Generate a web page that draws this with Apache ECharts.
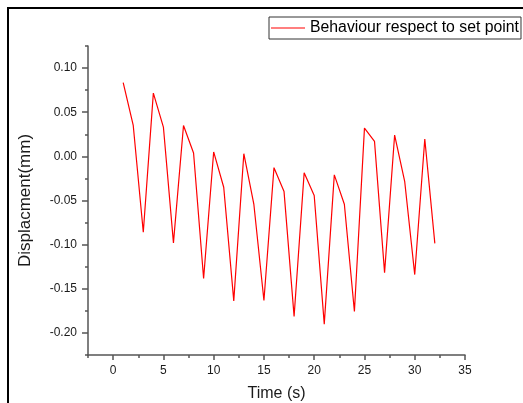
<!DOCTYPE html>
<html>
<head>
<meta charset="utf-8">
<script src="https://cdn.jsdelivr.net/npm/echarts@6/dist/echarts.min.js"></script>
<style>
  html, body { margin: 0; padding: 0; background: #fff; }
  #chart { width: 523px; height: 403px; }
</style>
</head>
<body>
<div id="chart"></div>
<script>
// time (s) and displacement (mm)
const times = [1, 2, 3, 4, 5, 6, 7, 8, 9, 10, 11, 12, 13, 14, 15, 16,
  17, 18, 19, 20, 21, 22, 23, 24, 25, 26, 27, 28, 29, 30, 31, 32]
const displacement = [0.0835, 0.035, -0.086, 0.0716, 0.0332, -0.098, 0.035, 0.0038,
  -0.1384, 0.005, -0.035, -0.1637, 0.003, -0.0545, -0.1633, -0.0128,
  -0.0399, -0.1813, -0.0187, -0.0444, -0.190, -0.021, -0.0542, -0.1757,
  0.032, 0.0169, -0.1317, 0.0241, -0.0282, -0.1339, 0.0196, -0.0986]
const xTicks = [0, 5, 10, 15, 20, 25, 30, 35]
const yTicks = [-0.20, -0.15, -0.10, -0.05, 0.00, 0.05, 0.10]

const axisColor = '#555'
const fontFamily = 'Liberation Sans, Arial, sans-serif'
const labelFont = { color: '#1a1a1a', fontSize: 12, fontFamily: fontFamily }

const chart = echarts.init(document.getElementById('chart'))

chart.setOption({
  animation: false,
  grid: { left: 88, right: 58, top: 46, bottom: 48, outerBoundsMode: 'none' },
  graphic: [{
    type: 'rect',
    shape: { x: 8, y: 8, width: 600, height: 500 },
    style: { fill: null, stroke: '#000', lineWidth: 2 },
    z: 100
  }],
  legend: {
    left: 269, top: 17,
    icon: 'rect',
    itemWidth: 34, itemHeight: 1.2,
    itemGap: 0,
    padding: [3, 2, 3, 2],
    borderColor: '#333', borderWidth: 1,
    textStyle: { color: '#000', fontSize: 15.8, fontFamily: fontFamily }
  },
  xAxis: [{
    type: 'value',
    min: -2.5, max: 35,
    name: 'Time (s)',
    nameLocation: 'middle',
    nameGap: 31,
    nameTextStyle: { color: '#1a1a1a', fontSize: 16, fontFamily: fontFamily },
    axisLine: { show: true, onZero: false, lineStyle: { color: axisColor, width: 1.5 } },
    axisTick: { show: true, customValues: xTicks, length: 5, lineStyle: { color: axisColor, width: 1.5 } },
    axisLabel: { customValues: xTicks, margin: 10, ...labelFont },
    splitLine: { show: false }
  }, {
    type: 'value',
    position: 'bottom',
    min: -2.5, max: 35, interval: 2.5,
    axisLine: { show: false, onZero: false },
    axisTick: { show: true, length: 3, lineStyle: { color: axisColor, width: 1.5 } },
    axisLabel: { show: false },
    splitLine: { show: false }
  }],
  yAxis: [{
    type: 'value',
    min: -0.225, max: 0.125,
    name: 'Displacment(mm)',
    nameLocation: 'middle',
    nameGap: 54,
    nameTextStyle: { color: '#1a1a1a', fontSize: 17, fontFamily: fontFamily },
    axisLine: { show: true, onZero: false, lineStyle: { color: axisColor, width: 1.5 } },
    axisTick: { show: true, customValues: yTicks, length: 6, lineStyle: { color: axisColor, width: 1.5 } },
    axisLabel: {
      customValues: yTicks, margin: 11, ...labelFont,
      formatter: v => v.toFixed(2)
    },
    splitLine: { show: false }
  }, {
    type: 'value',
    position: 'left',
    min: -0.225, max: 0.125, interval: 0.025,
    axisLine: { show: false, onZero: false },
    axisTick: { show: true, length: 3, lineStyle: { color: axisColor, width: 1.5 } },
    axisLabel: { show: false },
    splitLine: { show: false }
  }],
  series: [{
    name: 'Behaviour respect to set point',
    type: 'line',
    data: times.map((t, i) => [t, displacement[i]]),
    showSymbol: false,
    symbol: 'none',
    color: '#ff0000',
    lineStyle: { color: '#ff0000', width: 1.2 }
  }]
})
</script>
</body>
</html>
